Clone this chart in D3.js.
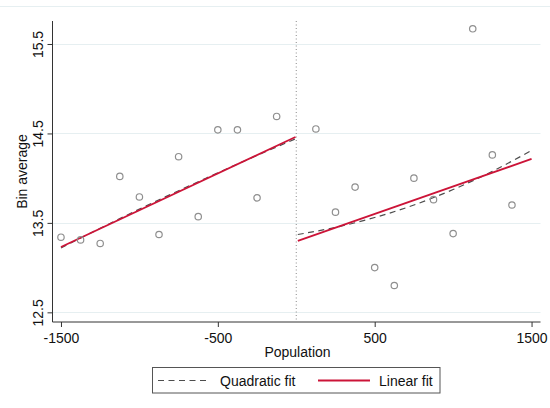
<!DOCTYPE html>
<html>
<head>
<meta charset="utf-8">
<script src="https://cdn.jsdelivr.net/npm/d3@7/dist/d3.min.js"></script>
<style>
  html, body { margin: 0; padding: 0; background: #fff; }
  svg { display: block; font-family: Arial, "Liberation Sans", sans-serif; }
</style>
</head>
<body>
<svg id="chart" width="550" height="408"></svg>
<script>
// Bin averages by population bin
const binLeftX  = [-1500, -1375, -1250, -1125, -1000, -875, -750, -625, -500, -375, -250, -125];
const binLeftY  = [13.34, 13.31, 13.27, 14.02, 13.79, 13.37, 14.24, 13.57, 14.54, 14.54, 13.78, 14.69];
const binRightX = [125, 250, 375, 500, 625, 750, 875, 1000, 1125, 1250, 1375];
const binRightY = [14.55, 13.62, 13.90, 13.00, 12.80, 14.00, 13.76, 13.38, 15.67, 14.26, 13.70];

// Linear fits (endpoints on each side of the cutoff)
const linLeftX  = [-1500, -5];
const linLeftY  = [13.23, 14.46];
const linRightX = [10, 1500];
const linRightY = [13.30, 14.215];

// Quadratic fits
const quadLeftX  = [-1500, -1250, -1000, -750, -500, -250, -5];
const quadLeftY  = [13.22, 13.44, 13.654, 13.86, 14.06, 14.254, 14.44];
const quadRightX = [10, 250, 500, 750, 1000, 1250, 1500];
const quadRightY = [13.37, 13.45, 13.56, 13.70, 13.873, 14.076, 14.31];

const xTicks = [-1500, -500, 500, 1500];
const xTickLabels = ["-1500", "-500", "500", "1500"];
const yTicks = [12.5, 13.5, 14.5, 15.5];
const yTickLabels = ["12.5", "13.5", "14.5", "15.5"];
const cutoff = 0;

const legendItems = [
  { label: "Quadratic fit", kind: "quad" },
  { label: "Linear fit", kind: "lin" }
];

const RED = "#cc1438";
const DASH = "#4d4d4d";
const GRID = "#e6eff1";

const svg = d3.select("#chart");
const plot = { left: 52.5, right: 540.5, top: 21, bottom: 322 };

const x = d3.scaleLinear().domain([-1554, 1557]).range([plot.left, plot.right]);
const y = d3.scaleLinear().domain([12.392, 15.757]).range([plot.bottom, plot.top]);

// faint outer frame line
svg.append("line")
  .attr("x1", 0).attr("x2", 550).attr("y1", 6.5).attr("y2", 6.5)
  .attr("stroke", GRID).attr("stroke-width", 1);

// horizontal grid
svg.append("g").selectAll("line").data(yTicks).join("line")
  .attr("x1", plot.left).attr("x2", plot.right)
  .attr("y1", d => Math.round(y(d)) + 0.5).attr("y2", d => Math.round(y(d)) + 0.5)
  .attr("stroke", GRID).attr("stroke-width", 1.2);

// cutoff line
svg.append("line")
  .attr("x1", x(cutoff)).attr("x2", x(cutoff))
  .attr("y1", plot.top).attr("y2", plot.bottom)
  .attr("stroke", "#8a8a8a").attr("stroke-width", 1)
  .attr("stroke-dasharray", "1,2.5");

// axes
const yAxis = d3.axisLeft(y).tickValues(yTicks).tickSize(5).tickPadding(4)
  .tickFormat((d, i) => yTickLabels[i]);
const gy = svg.append("g").attr("transform", `translate(${plot.left},0)`).call(yAxis);
gy.select(".domain").attr("d", `M0,${plot.top}V${plot.bottom}`).attr("stroke", "#333");
gy.selectAll(".tick line").attr("stroke", "#333");
gy.selectAll(".tick text")
  .attr("font-size", 14).attr("fill", "#111")
  .attr("transform", "rotate(-90)")
  .attr("x", 0).attr("y", -10).attr("dy", 0)
  .attr("text-anchor", "middle");

const xAxis = d3.axisBottom(x).tickValues(xTicks).tickSize(5).tickPadding(5)
  .tickFormat((d, i) => xTickLabels[i]);
const gx = svg.append("g").attr("transform", `translate(0,${plot.bottom})`).call(xAxis);
gx.select(".domain").attr("d", `M${plot.left},0H${plot.right}`).attr("stroke", "#333");
gx.selectAll(".tick line").attr("stroke", "#333");
gx.selectAll(".tick text").attr("font-size", 14).attr("fill", "#111")
  .attr("y", 0).attr("dy", 21);

// axis titles
svg.append("text")
  .attr("x", (plot.left + plot.right) / 2 + 1).attr("y", 357)
  .attr("text-anchor", "middle").attr("font-size", 14).attr("fill", "#111")
  .text("Population");
svg.append("text")
  .attr("transform", `translate(27,${(plot.top + plot.bottom) / 2}) rotate(-90)`)
  .attr("text-anchor", "middle").attr("font-size", 14).attr("fill", "#111")
  .text("Bin average");

// fitted lines
const line = d3.line().x(d => x(d[0])).y(d => y(d[1]));
const curve = d3.line().x(d => x(d[0])).y(d => y(d[1])).curve(d3.curveNatural);
const zip = (a, b) => a.map((v, i) => [v, b[i]]);

[[quadLeftX, quadLeftY], [quadRightX, quadRightY]].forEach(([xs, ys]) => {
  svg.append("path").datum(zip(xs, ys)).attr("d", curve)
    .attr("fill", "none").attr("stroke", DASH).attr("stroke-width", 1.2)
    .attr("stroke-dasharray", "6,4.5");
});
[[linLeftX, linLeftY], [linRightX, linRightY]].forEach(([xs, ys]) => {
  svg.append("path").datum(zip(xs, ys)).attr("d", line)
    .attr("fill", "none").attr("stroke", RED).attr("stroke-width", 1.8);
});

// bin averages
const pts = zip(binLeftX, binLeftY).concat(zip(binRightX, binRightY));
svg.append("g").selectAll("circle").data(pts).join("circle")
  .attr("cx", d => x(d[0])).attr("cy", d => y(d[1])).attr("r", 3.2)
  .attr("fill", "none").attr("stroke", "#8f8f8f").attr("stroke-width", 1.2);

// legend
const lg = svg.append("g");
lg.append("rect")
  .attr("x", 152.5).attr("y", 367.5).attr("width", 287.5).attr("height", 25.5)
  .attr("fill", "#fff").attr("stroke", "#555").attr("stroke-width", 1);
const legendPos = [{ lx: 158, tx: 220 }, { lx: 318, tx: 379 }];
legendItems.forEach((it, i) => {
  const p = legendPos[i];
  lg.append("line")
    .attr("x1", p.lx).attr("x2", p.lx + 52).attr("y1", 380.5).attr("y2", 380.5)
    .attr("stroke", it.kind === "quad" ? DASH : RED)
    .attr("stroke-width", it.kind === "quad" ? 1.2 : 1.8)
    .attr("stroke-dasharray", it.kind === "quad" ? "6,4.5" : null);
  lg.append("text")
    .attr("x", p.tx).attr("y", 385.5).attr("font-size", 14).attr("fill", "#111")
    .text(it.label);
});
</script>
</body>
</html>
